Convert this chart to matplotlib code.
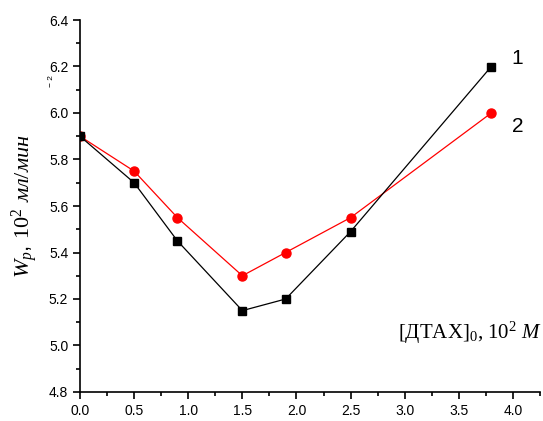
import matplotlib
matplotlib.use('Agg')
import matplotlib.pyplot as plt
from matplotlib.ticker import MultipleLocator

plt.rcParams['font.family'] = 'Liberation Sans'
plt.rcParams['mathtext.fontset'] = 'custom'
plt.rcParams['mathtext.rm'] = 'Liberation Serif'
plt.rcParams['mathtext.it'] = 'Liberation Serif:italic'

# data
conc = [0.0, 0.5, 0.9, 1.5, 1.9, 2.5, 3.8]
wp_1 = [5.9, 5.7, 5.45, 5.15, 5.2, 5.49, 6.2]
wp_2 = [5.9, 5.75, 5.55, 5.3, 5.4, 5.55, 6.0]

fig = plt.figure(figsize=(5.43, 4.21), dpi=100)
ax = fig.add_axes([80/543, 1-392/421, 460/543, 372/421])

ax.plot(conc, wp_1, color='black', lw=0.9, marker='s', ms=5.5, zorder=3)
ax.plot(conc, wp_2, color='red', lw=0.9, marker='o', ms=6.5, zorder=2)

ax.set_xlim(0, 4.25)
ax.set_ylim(4.8, 6.4)
ax.xaxis.set_major_locator(MultipleLocator(0.5))
ax.xaxis.set_minor_locator(MultipleLocator(0.25))
ax.yaxis.set_major_locator(MultipleLocator(0.2))
ax.yaxis.set_minor_locator(MultipleLocator(0.1))
ax.xaxis.set_major_formatter(matplotlib.ticker.FormatStrFormatter('%.1f'))
ax.yaxis.set_major_formatter(matplotlib.ticker.FormatStrFormatter('%.1f'))
ax.spines['top'].set_visible(False)
ax.spines['right'].set_visible(False)
ax.spines['left'].set_linewidth(1.2)
ax.spines['bottom'].set_linewidth(1.2)
ax.tick_params(which='major', direction='out', length=5, width=1.2, labelsize=10)
ax.tick_params(which='minor', direction='out', length=3, width=1.2)

ax.set_ylabel(r'$W_p$, $\mathrm{10^2}$ $мл/мин$', fontsize=16, labelpad=6)
ax.text(1.005, 0.16, r'[ДТАХ]$_\mathrm{0}$, $\mathrm{10^2}$ $M$', transform=ax.transAxes,
        ha='right', va='center', fontsize=15, family='Liberation Serif')
ax.text(-0.062, 0.835, '\u2212 2', transform=ax.transAxes, rotation=90,
        fontsize=6, ha='center', va='center')

ax.text(3.99, 6.21, '1', fontsize=15)
ax.text(3.99, 5.92, '2', fontsize=15)

fig.savefig('out.png', dpi=100)
